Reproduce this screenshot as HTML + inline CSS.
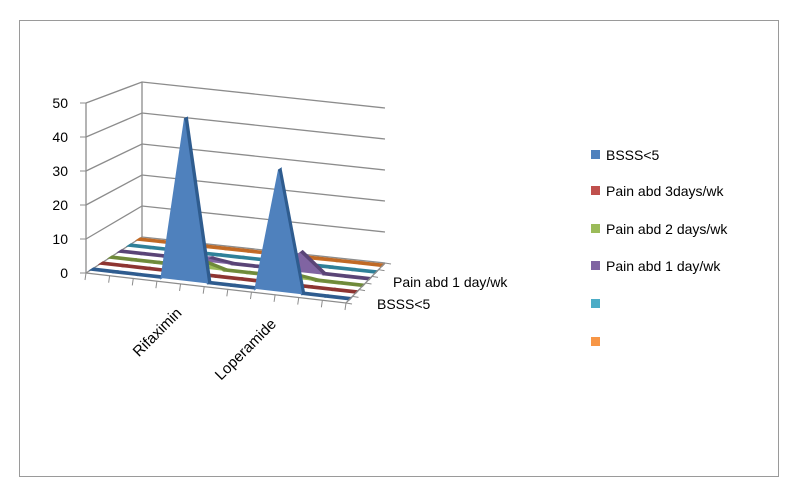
<!DOCTYPE html>
<html><head><meta charset="utf-8"><style>
body{margin:0;background:#fff;}
svg{display:block;font-family:"Liberation Sans",sans-serif;}
</style></head><body>
<svg id="chart" width="801" height="500">
<rect x="19.5" y="20.5" width="759" height="456" fill="#fff" stroke="#9a9a9a"/>
<g id="walls"></g>
<g id="series"></g>
<g id="axes"></g>
<g id="legend"></g>
</svg>
<script>
const categories = ["","","","","Rifaximin","","","","Loperamide","","",""];
const seriesNames = ["BSSS<5","Pain abd 3days/wk","Pain abd 2 days/wk","Pain abd 1 day/wk","",""];
const bsss = [0,0,0,0,48,0,0,0,36,0,0,0];
const pain3 = [0,0,0,0,0,0,0,0,0,0,0,0];
const pain2 = [0,0,0,0,2,0,0,0,1,0,0,0];
const pain1 = [0,0,0,0,1,0,0,0,6,0,0,0];
const blank1 = [0,0,0,0,0,0,0,0,0,0,0,0];
const blank2 = [0,0,0,0,0,0,0,0,0,0,0,0];
const yTicks = [0,10,20,30,40,50];
const depthLabels = ["BSSS<5","Pain abd 1 day/wk"];

const NS="http://www.w3.org/2000/svg";
const colors=["#4F81BD","#C0504D","#9BBB59","#8064A2","#4BACC6","#F79646"];
const darks=["#2F5C8F","#8E3532","#6F8A3A","#5A4577","#2F8099","#C06A26"];
const allSeries=[bsss,pain3,pain2,pain1,blank1,blank2];
const FL=[86,273],FR=[346,303],BL=[142,237],BR=[385,263];
const N=categories.length-1;
function P(x,z,v){const t=x/N;
 const fx=FL[0]+t*(FR[0]-FL[0]),fy=FL[1]+t*(FR[1]-FL[1]);
 const bx=BL[0]+t*(BR[0]-BL[0]),by=BL[1]+t*(BR[1]-BL[1]);
 const s=3.4*(1-z)+3.1*z;
 return [fx+z*(bx-fx),fy+z*(by-fy)-v*s];}
function mk(tag,attrs,parent){const e=document.createElementNS(NS,tag);for(const k in attrs)e.setAttribute(k,attrs[k]);parent.appendChild(e);return e;}
const walls=document.getElementById('walls'),axes=document.getElementById('axes'),sg=document.getElementById('series'),lg=document.getElementById('legend');
const pts=a=>a.map(p=>p[0].toFixed(1)+','+p[1].toFixed(1)).join(' ');
const yMax=yTicks[yTicks.length-1];
yTicks.forEach(v=>{
 const a=P(0,0,v),b=P(0,1,v),c=P(N,1,v);
 const l=mk('polyline',{points:pts([a,b,c]),fill:'none',stroke:'#8c8c8c','stroke-width':1.3},walls);
 
 
 const t=mk('text',{x:a[0]-18,y:a[1]+5,'font-size':14,'text-anchor':'end',fill:'#000'},axes);
 t.textContent=v;
 
 
});
let e=mk('line',{x1:P(0,0,0)[0],y1:P(0,0,0)[1],x2:P(0,0,yMax)[0],y2:P(0,0,yMax)[1],stroke:'#8c8c8c','stroke-width':1.3},walls);

e=mk('line',{x1:P(0,1,0)[0],y1:P(0,1,0)[1],x2:P(0,1,yMax)[0],y2:P(0,1,yMax)[1],stroke:'#8c8c8c','stroke-width':1.3},walls);

yTicks.forEach(v=>{const a=P(0,0,v);const t=mk('line',{x1:a[0]-6,y1:a[1],x2:a[0],y2:a[1],stroke:'#8c8c8c'},axes);
 });
const ns=allSeries.length, d=0.05;
for(let s=ns-1;s>=0;s--){
 const z=(s+0.5)/ns, vals=allSeries[s];
 const g=mk('g',{},sg);
 
 
 for(let i=0;i<N;i++){
  const q=[P(i,z,vals[i]),P(i+1,z,vals[i+1]),P(i+1,z+d,vals[i+1]),P(i,z+d,vals[i])];
  const up=vals[i+1]>vals[i];
  const f=mk('polygon',{points:pts(q),fill:up?colors[s]:darks[s],stroke:up?colors[s]:darks[s],'stroke-width':1.5},g);
  
 }
 const front=[P(0,z,0)];vals.forEach((v,i)=>front.push(P(i,z,v)));front.push(P(N,z,0));
 const f=mk('polygon',{points:pts(front),fill:colors[s]},g);
 
}
e=mk('polyline',{points:pts([P(0,0,0),P(N,0,0),P(N,1,0)]),fill:'none',stroke:'#8c8c8c','stroke-width':1.3},axes);

categories.forEach((c,i)=>{const a=P(i,0,0);
 const t=mk('line',{x1:a[0],y1:a[1],x2:a[0]-1,y2:a[1]+7,stroke:'#8c8c8c'},axes);
 
 if(c){const x=a[0]+2,y=a[1]+30;
  const l=mk('text',{x:x,y:y,'font-size':15,'text-anchor':'end',transform:`rotate(-45 ${x} ${y})`},axes);
  l.textContent=c;}
});
for(let s=0;s<=ns;s++){const a=P(N,s/ns,0);
 const t=mk('line',{x1:a[0],y1:a[1],x2:a[0]+6,y2:a[1]+1,stroke:'#8c8c8c'},axes);
 }
[[377,309,depthLabels[0]],[393,287,depthLabels[1]]].forEach(([x,y,txt])=>{
 const t=mk('text',{x:x,y:y,'font-size':14},axes);t.textContent=txt;
 });
const ly=[155,191,229,266,304,342];
seriesNames.forEach((n,i)=>{
 const r=mk('rect',{x:591,y:ly[i]-5,width:9,height:9,fill:colors[i]},lg);
 
 const t=mk('text',{x:606,y:ly[i]+5,'font-size':14},lg);t.textContent=n;
 
});
</script>
</body></html>
